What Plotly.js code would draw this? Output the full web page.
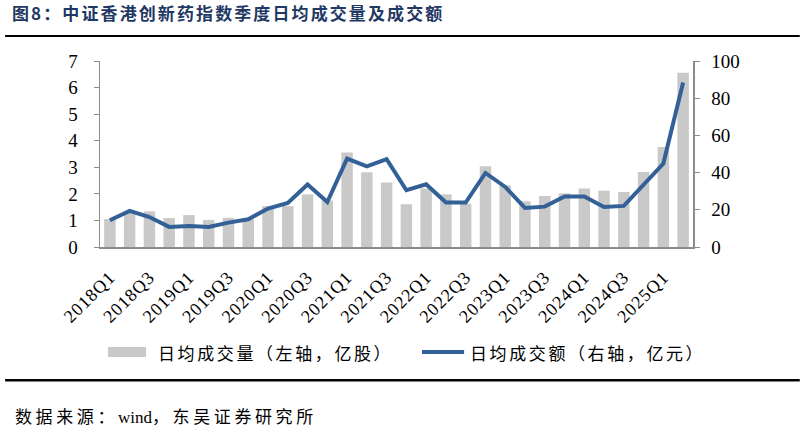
<!DOCTYPE html>
<html>
<head>
<meta charset="utf-8">
<script src="https://cdn.plot.ly/plotly-3.0.1.min.js"></script>
<style>
  html, body { margin: 0; padding: 0; background: #fff; }
  #chart { width: 805px; height: 427px; }
</style>
</head>
<body>
<div id="chart"></div>
<script>
// 季度标签 2018Q1 - 2025Q2
const quarters = [
  "2018Q1","2018Q2","2018Q3","2018Q4","2019Q1","2019Q2","2019Q3","2019Q4",
  "2020Q1","2020Q2","2020Q3","2020Q4","2021Q1","2021Q2","2021Q3","2021Q4",
  "2022Q1","2022Q2","2022Q3","2022Q4","2023Q1","2023Q2","2023Q3","2023Q4",
  "2024Q1","2024Q2","2024Q3","2024Q4","2025Q1","2025Q2"
];
// 日均成交量（亿股）
const volume = [
  1.05, 1.32, 1.34, 1.09, 1.20, 1.02, 1.10, 1.05,
  1.54, 1.54, 1.98, 1.75, 3.56, 2.81, 2.43, 1.61,
  2.20, 1.98, 1.63, 3.04, 2.32, 1.72, 1.92, 2.02,
  2.20, 2.12, 2.07, 2.82, 3.76, 6.56
];
// 日均成交额（亿元）
const turnover = [
  14.4, 19.4, 16.1, 10.8, 11.3, 10.8, 13.1, 14.9,
  20.7, 23.7, 33.6, 24.2, 47.5, 43.4, 47.2, 30.5,
  33.7, 23.9, 23.9, 39.8, 32.3, 21.0, 21.7, 27.1,
  27.1, 21.5, 22.1, 33.6, 44.9, 88.4
];
const shownTicks = quarters.filter((q, i) => i % 2 === 0);
const legendNames = ['日均成交量（左轴，亿股）', '日均成交额（右轴，亿元）'];

const serif = '"Liberation Serif", "Times New Roman", serif';
const cjk = '"Noto Sans CJK SC", sans-serif';
const barColor = '#C9C9C9', lineColor = '#336096';

const traces = [
  {
    type: 'bar', x: quarters, y: volume, name: legendNames[0],
    marker: { color: barColor }, yaxis: 'y'
  },
  {
    type: 'scatter', mode: 'lines', x: quarters, y: turnover, name: legendNames[1],
    line: { color: lineColor, width: 4 }, yaxis: 'y2'
  }
];

// 图例手工画（色块是扁长条）
const spaced = (t, px) => `<span style="letter-spacing:${px}px">${t}</span>`;

const layout = {
  width: 805, height: 427,
  paper_bgcolor: '#fff', plot_bgcolor: '#fff',
  margin: { l: 100, r: 112, t: 61, b: 180 },
  bargap: 0.42,
  showlegend: false,
  font: { family: serif, size: 17, color: '#000' },
  xaxis: {
    type: 'category', tickmode: 'array', tickvals: shownTicks,
    ticktext: shownTicks.map(t => spaced(t, 1)),
    tickangle: -45, tickfont: { family: serif, size: 18, color: '#000' },
    showline: true, linecolor: '#8c8c8c', linewidth: 1.5,
    ticks: 'outside', ticklen: 11, tickcolor: 'rgba(0,0,0,0)',
    showgrid: false, zeroline: false, fixedrange: true
  },
  yaxis: {
    range: [0, 7], dtick: 1, showline: true, linecolor: '#8c8c8c', linewidth: 1.5,
    ticks: 'outside', ticklen: 5, tickcolor: '#8c8c8c', showgrid: false, zeroline: false,
    ticklabelstandoff: 12,
    tickfont: { family: serif, size: 19, color: '#000' }
  },
  yaxis2: {
    range: [0, 100], dtick: 20, overlaying: 'y', side: 'right',
    showline: true, linecolor: '#8c8c8c', linewidth: 1.5,
    ticks: 'outside', ticklen: 5, tickcolor: '#8c8c8c', showgrid: false, zeroline: false,
    ticklabelstandoff: 8,
    tickfont: { family: serif, size: 19, color: '#000' }
  },
  annotations: [
    {
      xref: 'paper', yref: 'paper', x: -0.152, y: 1.0, xanchor: 'left', yanchor: 'bottom',
      yshift: 34, showarrow: false,
      text: '<b>' + spaced('图8：中证香港创新药指数季度日均成交量及成交额', 2.1) + '</b>',
      font: { family: cjk, size: 17, color: '#1F3864' }
    },
    {
      xref: 'paper', yref: 'paper', x: 0.0944, y: -0.565, xanchor: 'left', yanchor: 'middle',
      showarrow: false, text: spaced(legendNames[0], 2.6),
      font: { family: cjk, size: 17, color: '#000' }
    },
    {
      xref: 'paper', yref: 'paper', x: 0.6206, y: -0.565, xanchor: 'left', yanchor: 'middle',
      showarrow: false, text: spaced(legendNames[1], 2.6),
      font: { family: cjk, size: 17, color: '#000' }
    },
    {
      xref: 'paper', yref: 'paper', x: -0.147, y: 0, xanchor: 'left', yanchor: 'top',
      yshift: -154, showarrow: false,
      text: spaced('数据来源：', 3.6) + '<span style="font-family:Liberation Serif">wind</span>' + spaced('，东吴证券研究所', 3.6),
      font: { family: cjk, size: 17, color: '#000' }
    }
  ],
  shapes: [
    { type: 'line', xref: 'paper', yref: 'paper', x0: -0.16, x1: 1.18, y0: 1.135, y1: 1.135,
      line: { color: '#000', width: 2 } },
    { type: 'line', xref: 'paper', yref: 'paper', x0: -0.16, x1: 1.18, y0: -0.717, y1: -0.717,
      line: { color: '#000', width: 2.5 } },
    { type: 'rect', xref: 'paper', yref: 'paper', x0: 0.0135, x1: 0.0776, y0: -0.591, y1: -0.538,
      fillcolor: barColor, line: { width: 0 } },
    { type: 'line', xref: 'paper', yref: 'paper', x0: 0.543, x1: 0.614, y0: -0.565, y1: -0.565,
      line: { color: lineColor, width: 4 } }
  ]
};

Plotly.newPlot('chart', traces, layout, { displayModeBar: false, staticPlot: true });
</script>
</body>
</html>
